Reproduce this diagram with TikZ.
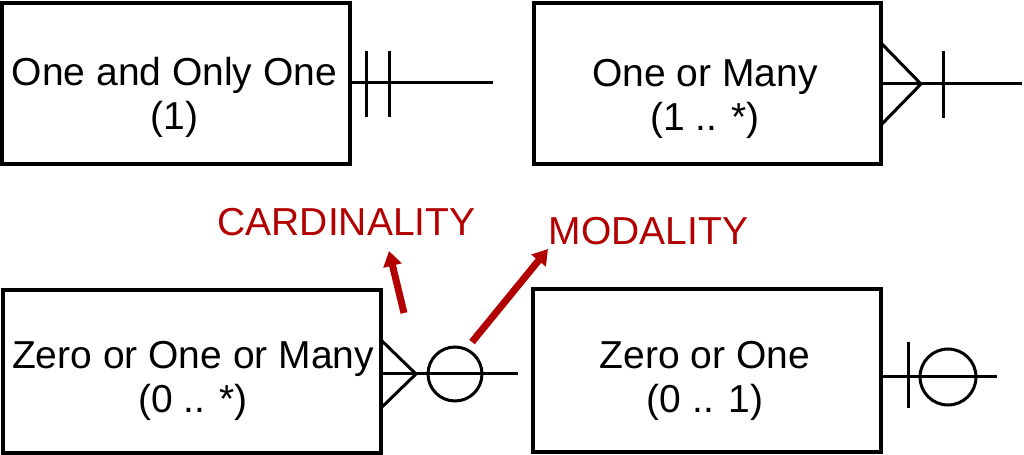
\documentclass[tikz,border=0pt]{standalone}
\usepackage{fontspec}
\setmainfont{Liberation Sans}
\usepackage{tikz}
\usetikzlibrary{arrows.meta,positioning}
\definecolor{notered}{RGB}{178,0,0}

\begin{document}
\begin{tikzpicture}[x=1bp,y=-1bp,
		entity/.style={draw,line width=4bp,minimum width=348bp,minimum height=161bp,inner sep=0pt,outer sep=0pt},
		etext/.style={align=center,font=\fontsize{39bp}{44bp}\selectfont},
		rel/.style={line width=3bp},
		note/.style={text=notered,anchor=base,font=\fontsize{39bp}{44bp}\selectfont},
		note arrow/.style={notered,line width=7bp,-{Triangle[length=15bp,width=18bp]}}]
			\useasboundingbox (0,0) rectangle (1024,455);
			\node[entity] (one) at (176,84) {};
			\node[entity,minimum width=347bp] (many) at (707.5,84) {};
			\node[entity,minimum width=378bp,minimum height=163bp] (zmany) at (192,371.75) {};
			\node[entity,minimum height=163bp] (zone) at (707,370.5) {};
			\node[etext] (one text) at (174.5,97) {One and Only One\\(1)};
			\node[etext] (many text) at (705,99) {One or Many\\(1 .. *)};
			\node[etext] (zmany text) at (193,381) {Zero or One or Many\\(0 .. *)};
			\node[etext] (zone text) at (705,381) {Zero or One\\(0 .. 1)};
			\coordinate (one end) at (493,83);
			\draw[rel] (one.east |- one end) -- (one end);
			\foreach \x in {366,389} \draw[rel] (\x,51) -- (\x,117);
			\coordinate (many end) at (1022,84);
			\draw[rel] (many.east) -- (many end);
			\draw[rel] (881,43) -- (921,84) -- (881,125);
			\draw[rel] (943,51) -- (943,118);
			\coordinate (zmany end) at (518,374);
			\draw[rel] (zmany.east |- zmany end) -- (zmany end);
			\draw[rel] (381,340) -- (416,374) -- (381,408);
			\draw[rel] (455,374) circle[radius=27bp];
			\coordinate (zone end) at (997,377);
			\draw[rel] (zone.east |- zone end) -- (zone end);
			\draw[rel] (908,342) -- (908,408);
			\draw[rel] (948,377) circle[radius=28bp];
			\node[note] (card) at (346.5,236) {CARDINALITY};
			\node[note] (moda) at (648.5,245) {MODALITY};
			\coordinate (card tail) at (404,313);
			\coordinate (card tip) at (389,251);
			\draw[note arrow] (card tail) -- (card tip);
			\coordinate (moda tail) at (472,342);
			\coordinate (moda tip) at (548,249);
			\draw[note arrow] (moda tail) -- (moda tip);
		\end{tikzpicture}
\end{document}
